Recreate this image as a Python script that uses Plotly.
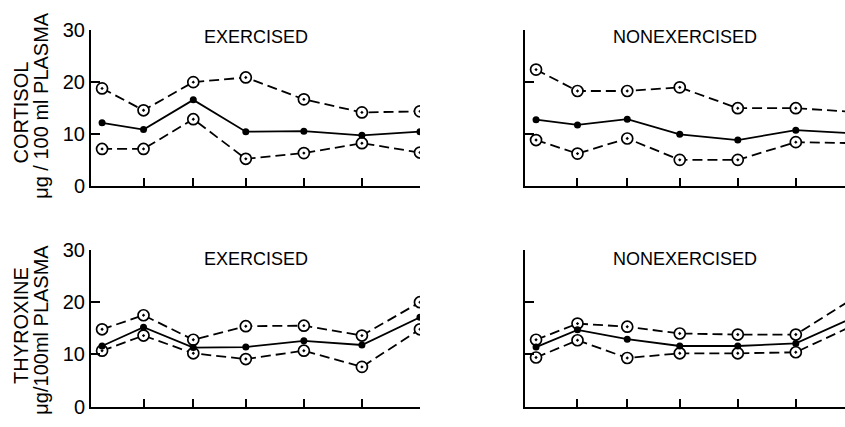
import plotly.graph_objects as go

# Sampling positions along the time axis (first sample sits just past the origin)
time_points = [0.2, 0.95, 1.85, 2.8, 3.85, 4.9, 5.95]
tick_points = time_points[1:]

# Cortisol (ug/100 ml plasma): mean and upper/lower bounds
cortisol_ex_upper = [18.8, 14.6, 20.0, 20.9, 16.7, 14.2, 14.4]
cortisol_ex_mean = [12.2, 10.9, 16.6, 10.5, 10.6, 9.8, 10.5]
cortisol_ex_lower = [7.2, 7.2, 12.9, 5.3, 6.4, 8.3, 6.5]

cortisol_nx_upper = [22.4, 18.3, 18.3, 19.0, 15.0, 15.0, 14.3]
cortisol_nx_mean = [12.8, 11.8, 12.9, 10.0, 8.9, 10.8, 10.2]
cortisol_nx_lower = [8.9, 6.3, 9.2, 5.1, 5.1, 8.5, 8.3]

# Thyroxine (ug/100 ml plasma): mean and upper/lower bounds
thyroxine_ex_upper = [14.8, 17.5, 12.8, 15.4, 15.5, 13.6, 20.0]
thyroxine_ex_mean = [11.6, 15.2, 11.3, 11.4, 12.6, 11.8, 17.1]
thyroxine_ex_lower = [10.7, 13.6, 10.2, 9.1, 10.7, 7.6, 14.8]

thyroxine_nx_upper = [12.8, 15.9, 15.3, 14.0, 13.8, 13.8, 20.8]
thyroxine_nx_mean = [11.4, 14.7, 12.9, 11.6, 11.6, 12.1, 17.1]
thyroxine_nx_lower = [9.4, 12.7, 9.3, 10.2, 10.2, 10.4, 15.6]

y_ticks = [0, 10, 20, 30]
panel_titles = ["EXERCISED", "NONEXERCISED", "EXERCISED", "NONEXERCISED"]

FONT = "Liberation Sans, Arial, sans-serif"
INK = "black"

fig = go.Figure()

panels = [
    ("x", "y", cortisol_ex_upper, cortisol_ex_mean, cortisol_ex_lower),
    ("x2", "y2", cortisol_nx_upper, cortisol_nx_mean, cortisol_nx_lower),
    ("x3", "y3", thyroxine_ex_upper, thyroxine_ex_mean, thyroxine_ex_lower),
    ("x4", "y4", thyroxine_nx_upper, thyroxine_nx_mean, thyroxine_nx_lower),
]

for xa, ya, upper, mean, lower in panels:
    for vals in (upper, lower):
        fig.add_trace(go.Scatter(
            x=time_points, y=vals, xaxis=xa, yaxis=ya, mode="lines+markers",
            line=dict(color=INK, width=1.8, dash="10px,5px"),
            marker=dict(symbol="circle-dot", size=11, color="white",
                        line=dict(color=INK, width=1.7)),
            cliponaxis=True, showlegend=False, hoverinfo="skip"))
    fig.add_trace(go.Scatter(
        x=time_points, y=mean, xaxis=xa, yaxis=ya, mode="lines+markers",
        line=dict(color=INK, width=1.8),
        marker=dict(symbol="circle", size=7, color=INK),
        cliponaxis=True, showlegend=False, hoverinfo="skip"))

left_dom = [0.1077, 0.497]
right_dom = [0.6213, 1.0]
top_dom = [0.5667, 0.9532]
bot_dom = [0.0234, 0.4098]

def xaxis(dom, anchor, rng):
    return dict(domain=dom, anchor=anchor, range=rng, showgrid=False,
                zeroline=False, showline=True, linecolor=INK, linewidth=2,
                ticks="inside", ticklen=8, tickwidth=2, tickcolor=INK,
                tickvals=tick_points, showticklabels=False)

def yaxis(dom, anchor, labels):
    return dict(domain=dom, anchor=anchor, range=[0, 30], showgrid=False,
                zeroline=False, showline=True, linecolor=INK, linewidth=2,
                ticks="inside", ticklen=9, tickwidth=2, tickcolor=INK,
                tickvals=y_ticks, showticklabels=labels,
                tickfont=dict(family=FONT, size=20, color=INK))

left_range = [0, 5.95]
right_range = [0, 5.79]

fig.update_layout(
    width=845, height=427, margin=dict(l=0, r=0, t=0, b=0),
    paper_bgcolor="white", plot_bgcolor="white",
    xaxis=xaxis(left_dom, "y", left_range),
    yaxis=yaxis(top_dom, "x", True),
    xaxis2=xaxis(right_dom, "y2", right_range),
    yaxis2=yaxis(top_dom, "x2", False),
    xaxis3=xaxis(left_dom, "y3", left_range),
    yaxis3=yaxis(bot_dom, "x3", True),
    xaxis4=xaxis(right_dom, "y4", right_range),
    yaxis4=yaxis(bot_dom, "x4", False),
)

annotations = []
title_pos = [(256, 27), (685, 27), (256, 261), (685, 261)]
for text, (px, py) in zip(panel_titles, title_pos):
    annotations.append(dict(text=text, x=px / 845, y=1 - py / 427,
                            xref="paper", yref="paper", showarrow=False,
                            xanchor="center", yanchor="middle",
                            font=dict(family=FONT, size=18, color=INK)))

y_titles = [
    ("CORTISOL", 21, 107),
    ("\u03bcg / 100 ml PLASMA", 41, 100),
    ("THYROXINE", 21, 332),
    ("\u03bcg/100ml PLASMA", 41, 336),
]
for text, px, py in y_titles:
    annotations.append(dict(text=text, x=px / 845, y=1 - py / 427,
                            xref="paper", yref="paper", showarrow=False,
                            xanchor="center", yanchor="middle", textangle=-90,
                            font=dict(family=FONT, size=20, color=INK)))

fig.update_layout(annotations=annotations)
fig.write_html("out.html")
